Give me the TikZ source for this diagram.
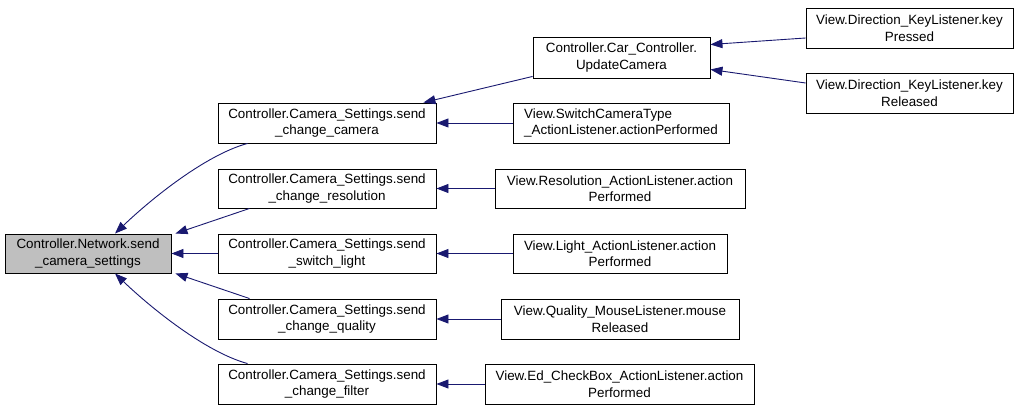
\documentclass[tikz,border=0pt]{standalone}
\usepackage{fontspec}
\setmainfont{Liberation Sans}
\usetikzlibrary{arrows.meta, positioning, calc}
\definecolor{edgeblue}{HTML}{191970}
\definecolor{rootgray}{HTML}{BFBFBF}
\tikzset{
    func/.style={rectangle, draw=black, fill=white, inner sep=0pt, align=center, font=\fontsize{13.4}{16.5}\selectfont, line width=0.9pt},
    root/.style={func, fill=rootgray},
    call/.style={draw=edgeblue, line width=0.9pt, <-, >={Triangle[length=12pt,width=9pt]}}
}
\begin{document}
\begin{tikzpicture}[x=1pt, y=-1pt]
        \useasboundingbox (0,0) rectangle (1019,411);
        % Root
        \node (net) [root, minimum width=166pt, minimum height=39pt] at (88,253.5) {Controller.Network.send\\\_camera\_settings};
        % Callers of the root
        \node (cam) [func, minimum width=218pt, minimum height=40pt] at (327,123) {Controller.Camera\_Settings.send\\\_change\_camera};
        \node (res) [func, minimum width=218pt, minimum height=39pt] at (327,188.5) {Controller.Camera\_Settings.send\\\_change\_resolution};
        \node (light) [func, minimum width=218pt, minimum height=39pt] at (327,253.5) {Controller.Camera\_Settings.send\\\_switch\_light};
        \node (qual) [func, minimum width=218pt, minimum height=40pt] at (327,319) {Controller.Camera\_Settings.send\\\_change\_quality};
        \node (filt) [func, minimum width=218pt, minimum height=40pt] at (327,384) {Controller.Camera\_Settings.send\\\_change\_filter};
        % Next level
        \node (upd) [func, minimum width=177pt, minimum height=41pt] at (621.5,57.5) {Controller.Car\_Controller.\\UpdateCamera};
        \node (sw) [func, align=left, minimum width=216pt, minimum height=40pt] at (621,123) {View.SwitchCameraType\\\_ActionListener.actionPerformed};
        \node (resAL) [func, minimum width=250pt, minimum height=39pt] at (620,188.5) {View.Resolution\_ActionListener.action\\Performed};
        \node (lightAL) [func, minimum width=214pt, minimum height=39pt] at (620,253.5) {View.Light\_ActionListener.action\\Performed};
        \node (qualAL) [func, minimum width=238pt, minimum height=40pt] at (620,319) {View.Quality\_MouseListener.mouse\\Released};
        \node (edAL) [func, minimum width=269pt, minimum height=40pt] at (619.5,384) {View.Ed\_CheckBox\_ActionListener.action\\Performed};
        \node (kp) [func, minimum width=207pt, minimum height=40pt] at (909.5,28) {View.Direction\_KeyListener.key\\Pressed};
        \node (kr) [func, minimum width=207pt, minimum height=40pt] at (909.5,93) {View.Direction\_KeyListener.key\\Released};

        % Calls
        \draw[call] ([xshift=27pt]net.north) .. controls (150,200) and (205,155) .. ([xshift=30pt]cam.south west);
        \draw[call] ([xshift=4pt]net.north east) -- ([xshift=32pt]res.south west);
        \draw[call] (net) -- (light);
        \draw[call] ([xshift=4pt]net.south east) -- ([xshift=32pt]qual.north west);
        \draw[call] ([xshift=27pt]net.south) .. controls (150,307) and (205,352) .. ([xshift=30pt]filt.north west);

        \draw[call] ([xshift=-13pt]cam.north east) -- ([yshift=2pt]upd.south west);
        \draw[call] (cam) -- (sw);
        \draw[call] (res) -- (resAL);
        \draw[call] (light) -- (lightAL);
        \draw[call] (qual) -- (qualAL);
        \draw[call] (filt) -- (edAL);

        \draw[call] ([yshift=13pt]upd.east) -- ([yshift=-10pt]kp.west);
        \draw[call] ([yshift=-12pt]upd.east) -- ([yshift=10pt]kr.west);
    \end{tikzpicture}
\end{document}
